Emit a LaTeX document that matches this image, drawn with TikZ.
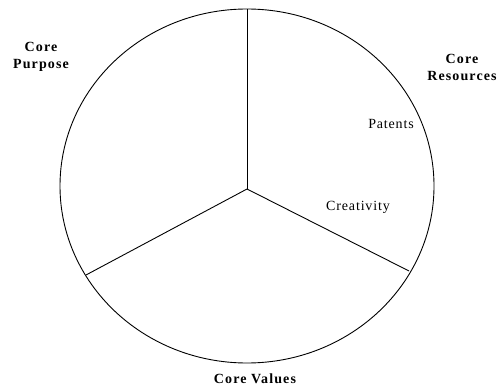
\documentclass[tikz,border=0pt]{standalone}
\usepackage{fontspec}
\setmainfont[LetterSpace=6]{Liberation Serif}
\newfontfamily\boldlbl[LetterSpace=8]{Liberation Serif}
\begin{document}
\begin{tikzpicture}[x=1pt,y=-1pt,
  line/.style={draw=black,line width=0.9pt},
  headlbl/.style={font=\boldlbl\bfseries\fontsize{14}{17}\selectfont,align=center,anchor=base,inner sep=0pt},
  itemlbl/.style={font=\fontsize{14}{16}\selectfont,anchor=base,inner sep=0pt}]
\useasboundingbox (0,0) rectangle (497,387);
\draw[line] (247,186) ellipse [x radius=187pt, y radius=177pt];
\coordinate (c) at (247,189);
\coordinate (top) at (247,9);
\coordinate (right) at (409,271);
\coordinate (left) at (86,275);
\draw[line] (c) -- (top);
\draw[line] (c) -- (right);
\draw[line] (c) -- (left);
\node[headlbl] (purpose) at (41,69) {Core\\Purpose};
\node[headlbl] (resources) at (462,81) {Core\\Resources};
\node[headlbl] (values) at (255,383) {Core Values};
\node[itemlbl] (patents) at (391,129) {Patents};
\node[itemlbl] (creativity) at (358,211) {Creativity};
\end{tikzpicture}
\end{document}
